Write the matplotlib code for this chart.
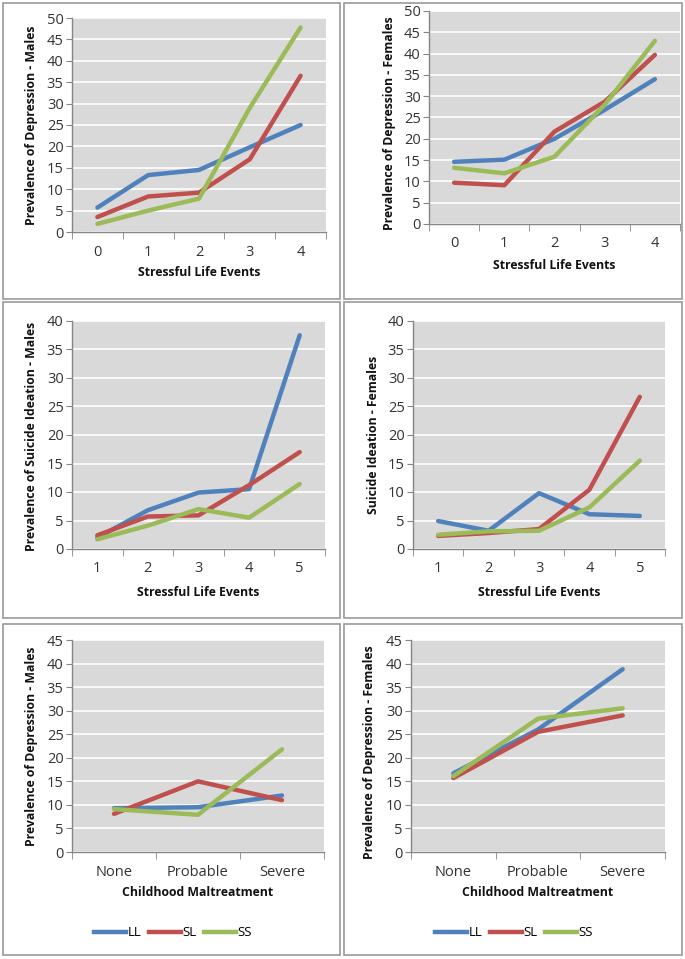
import matplotlib
matplotlib.use("Agg")
import matplotlib.pyplot as plt
from matplotlib.patches import Rectangle
from matplotlib.lines import Line2D

plt.rcParams['font.family'] = ['Open Sans', 'DejaVu Sans']

# ---- data ----
sle_dep = ["0", "1", "2", "3", "4"]
sle_si = ["1", "2", "3", "4", "5"]
cm_cats = ["None", "Probable", "Severe"]
series_names = ["LL", "SL", "SS"]

dep_m_LL = [5.7, 13.3, 14.5, 19.8, 25.0]
dep_m_SL = [3.5, 8.3, 9.2, 17.0, 36.5]
dep_m_SS = [1.9, 5.0, 7.8, 29.0, 47.8]

dep_f_LL = [14.6, 15.1, 20.0, 26.8, 34.0]
dep_f_SL = [9.7, 9.1, 21.7, 28.7, 39.7]
dep_f_SS = [13.2, 11.9, 15.8, 28.0, 43.0]

si_m_LL = [2.0, 6.8, 9.9, 10.5, 37.5]
si_m_SL = [2.4, 5.7, 5.9, 11.2, 17.0]
si_m_SS = [1.7, 4.1, 7.0, 5.5, 11.4]

si_f_LL = [4.9, 3.2, 9.8, 6.1, 5.8]
si_f_SL = [2.3, 2.8, 3.5, 10.4, 26.7]
si_f_SS = [2.5, 3.1, 3.2, 7.3, 15.5]

cm_m_LL = [9.3, 9.5, 12.0]
cm_m_SL = [8.1, 15.0, 11.0]
cm_m_SS = [9.1, 7.9, 21.8]

cm_f_LL = [16.7, 26.0, 38.8]
cm_f_SL = [15.7, 25.5, 29.0]
cm_f_SS = [16.1, 28.3, 30.5]

colors = ["#4F81BD", "#C0504D", "#9BBB59"]

W, H = 685, 959
fig = plt.figure(figsize=(W / 100, H / 100), dpi=100)
fig.patch.set_facecolor("white")

def fx(px):
    return px / W

def fy(py):
    return 1 - py / H

# panel frames (px: x0, y0, x1, y1)
frames = [(3, 3, 340, 299), (344, 3, 682, 299),
          (3, 302, 340, 618), (344, 302, 682, 618),
          (3, 624, 340, 955), (344, 624, 682, 955)]
for x0, y0, x1, y1 in frames:
    fig.patches.append(Rectangle((fx(x0), fy(y1)), fx(x1) - fx(x0), fy(y0) - fy(y1),
                                 transform=fig.transFigure, fill=False,
                                 edgecolor="#9A9A9A", linewidth=1.2))

panels = [
    dict(rect=(72, 18, 326, 232), cats=sle_dep, data=[dep_m_LL, dep_m_SL, dep_m_SS],
         ymax=50, ylabel="Prevalence of Depression - Males", xlabel="Stressful Life Events",
         ylab_px=32, ylab_py=125, xlab_py=273, legend=False),
    dict(rect=(429, 11, 680, 224), cats=sle_dep, data=[dep_f_LL, dep_f_SL, dep_f_SS],
         ymax=50, ylabel="Prevalence of Depression - Females", xlabel="Stressful Life Events",
         ylab_px=389, ylab_py=123, xlab_py=266, legend=False),
    dict(rect=(72, 321, 325, 549), cats=sle_si, data=[si_m_LL, si_m_SL, si_m_SS],
         ymax=40, ylabel="Prevalence of Suicide Ideation - Males", xlabel="Stressful Life Events",
         ylab_px=32, ylab_py=436, xlab_py=592, legend=False),
    dict(rect=(413, 321, 665, 549), cats=sle_si, data=[si_f_LL, si_f_SL, si_f_SS],
         ymax=40, ylabel="Suicide Ideation - Females", xlabel="Stressful Life Events",
         ylab_px=374, ylab_py=435, xlab_py=592, legend=False),
    dict(rect=(72, 640, 324, 852), cats=cm_cats, data=[cm_m_LL, cm_m_SL, cm_m_SS],
         ymax=45, ylabel="Prevalence of Depression - Males", xlabel="Childhood Maltreatment",
         ylab_px=32, ylab_py=746, xlab_py=892, legend=True, leg_px=173),
    dict(rect=(411, 640, 665, 852), cats=cm_cats, data=[cm_f_LL, cm_f_SL, cm_f_SS],
         ymax=45, ylabel="Prevalence of Depression - Females", xlabel="Childhood Maltreatment",
         ylab_px=370, ylab_py=752, xlab_py=892, legend=True, leg_px=514),
]

for p in panels:
    x0, y0, x1, y1 = p["rect"]
    ax = fig.add_axes([fx(x0), fy(y1), fx(x1) - fx(x0), fy(y0) - fy(y1)])
    ax.set_facecolor("#D9D9D9")
    n = len(p["cats"])
    xs = list(range(n))
    for vals, c, name in zip(p["data"], colors, series_names):
        ax.plot(xs, vals, color=c, linewidth=3.2, solid_capstyle="round",
                solid_joinstyle="round", label=name)
    ax.set_xlim(-0.5, n - 0.5)
    ax.set_ylim(0, p["ymax"])
    ax.set_yticks(range(0, p["ymax"] + 1, 5))
    ax.yaxis.grid(True, color="white", linewidth=1.2)
    ax.set_axisbelow(True)
    ax.set_xticks(xs)
    ax.set_xticklabels(p["cats"])
    ax.set_xticks([i - 0.5 for i in range(n + 1)], minor=True)
    ax.tick_params(axis="x", which="major", length=0, pad=9, labelsize=10.5, colors="#333333")
    ax.tick_params(axis="x", which="minor", length=5, color="#868686", direction="out")
    ax.tick_params(axis="y", length=4, color="#868686", labelsize=10.5, colors="#333333", pad=2)
    for s in ["top", "right"]:
        ax.spines[s].set_visible(False)
    for s in ["left", "bottom"]:
        ax.spines[s].set_color("#868686")
        ax.spines[s].set_linewidth(1.0)
    ax.set_ylabel(p["ylabel"], fontsize=8.8, fontweight="bold", color="#111111")
    ax.set_xlabel(p["xlabel"], fontsize=8.8, fontweight="bold", color="#111111")
    aw = x1 - x0
    ah = y1 - y0
    ax.yaxis.set_label_coords((p["ylab_px"] - x0) / aw, (y1 - p["ylab_py"]) / ah)
    ax.xaxis.set_label_coords(0.5, -(p["xlab_py"] - y1) / ah)
    ax.xaxis.label.set_verticalalignment("center")
    ax.yaxis.label.set_verticalalignment("center")
    if p["legend"]:
        handles = [Line2D([], [], color=c, linewidth=3.2) for c in colors]
        fig.legend(handles, series_names, loc="center",
                   bbox_to_anchor=(fx(p["leg_px"]), fy(933)), ncol=3, frameon=False,
                   fontsize=9.5, handlelength=2.4, handletextpad=0.1, columnspacing=0.6)

fig.savefig("out.png", dpi=100)
